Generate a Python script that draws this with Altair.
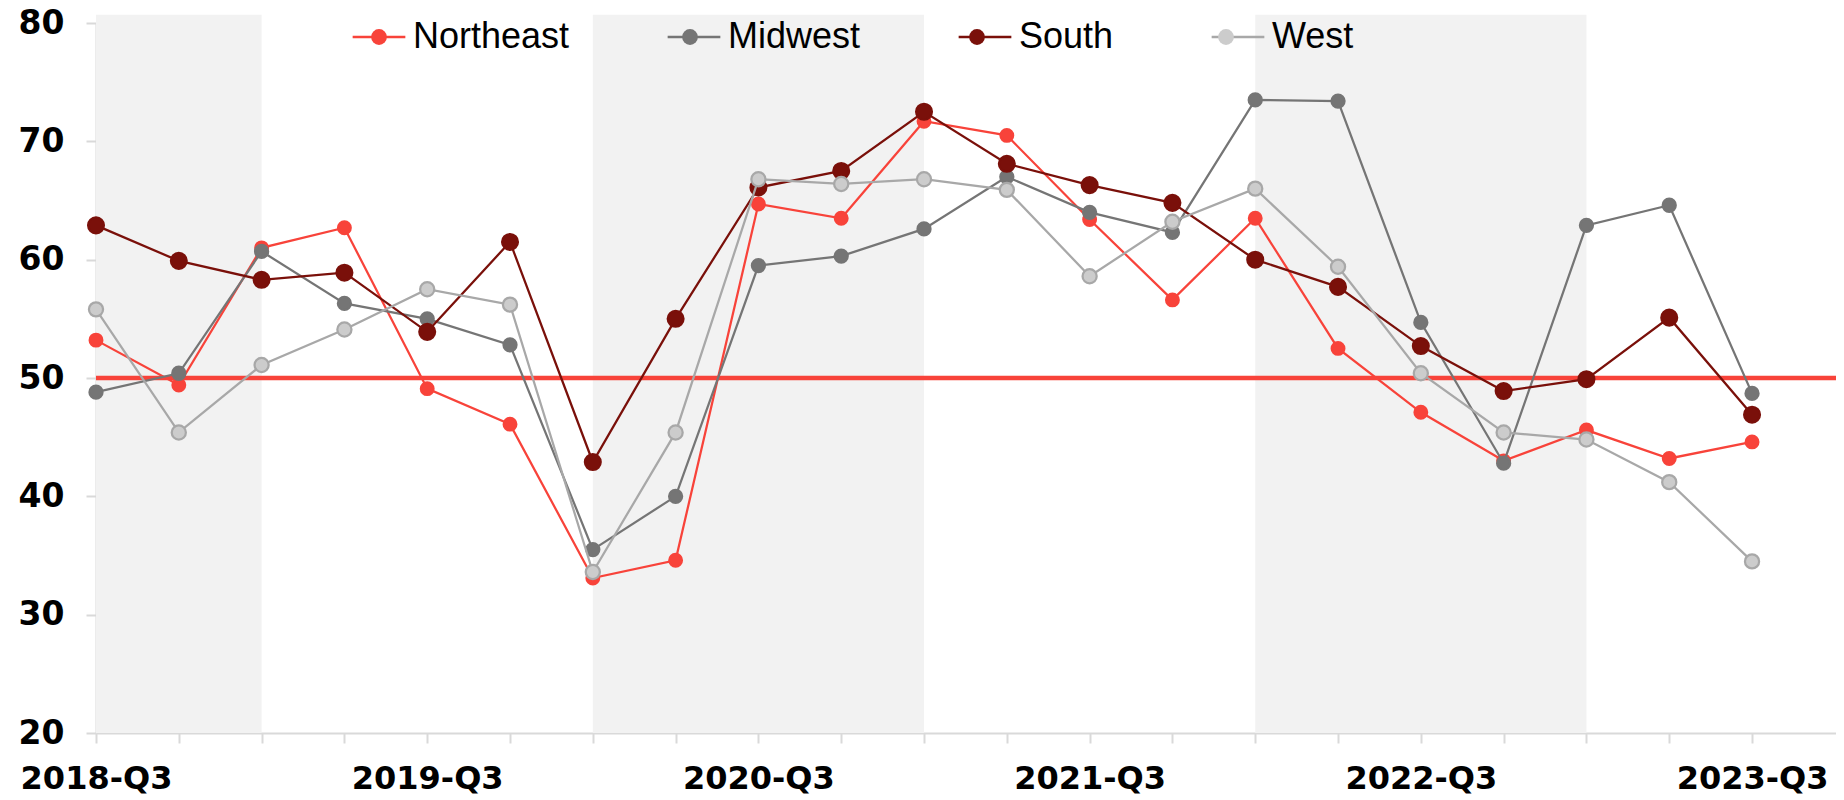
import altair as alt
import pandas as pd

quarters = ["2018-Q3", "2018-Q4", "2019-Q1", "2019-Q2", "2019-Q3", "2019-Q4",
            "2020-Q1", "2020-Q2", "2020-Q3", "2020-Q4", "2021-Q1", "2021-Q2",
            "2021-Q3", "2021-Q4", "2022-Q1", "2022-Q2", "2022-Q3", "2022-Q4",
            "2023-Q1", "2023-Q2", "2023-Q3"]

northeast = [53.2, 49.4, 61.0, 62.7, 49.1, 46.1, 33.1, 34.6, 64.7, 63.5, 71.7,
             70.5, 63.4, 56.6, 63.5, 52.5, 47.1, 43.0, 45.6, 43.2, 44.6]
midwest = [48.8, 50.4, 60.7, 56.3, 55.0, 52.8, 35.5, 40.0, 59.5, 60.3, 62.6,
           67.0, 64.0, 62.3, 73.5, 73.4, 54.7, 42.8, 62.9, 64.6, 48.7]
south = [62.9, 59.9, 58.3, 58.9, 53.9, 61.5, 42.9, 55.0, 66.1, 67.5, 72.5,
         68.1, 66.3, 64.8, 60.0, 57.7, 52.7, 48.9, 49.9, 55.1, 46.9]
west = [55.8, 45.4, 51.1, 54.1, 57.5, 56.2, 33.6, 45.4, 66.8, 66.4, 66.8,
        65.9, 58.6, 63.2, 66.0, 59.4, 50.4, 45.4, 44.8, 41.2, 34.5]

regions = ["Northeast", "Midwest", "South", "West"]
series = [northeast, midwest, south, west]
line_colors = ["#f8433a", "#757575", "#7a100a", "#a8a8a8"]
fill_colors = ["#f8433a", "#757575", "#7a100a", "#cccccc"]
point_sizes = [160, 170, 250, 200]

band_start = ["2018-Q3", "2020-Q1", "2022-Q1"]
band_end = ["2019-Q1", "2021-Q1", "2023-Q1"]
band_top = 80.7
y_ticks = [20, 30, 40, 50, 60, 70, 80]
threshold = 50
label_every = 4

rows = []
for r, vals in zip(regions, series):
    for i, (q, v) in enumerate(zip(quarters, vals)):
        rows.append({"idx": i, "quarter": q, "region": r, "value": v})
df = pd.DataFrame(rows)

bands = pd.DataFrame({
    "start": [quarters.index(q) for q in band_start],
    "end": [quarters.index(q) for q in band_end],
})

label_arr = "[" + ",".join("'" + q + "'" for q in quarters) + "]"
label_expr = f"datum.value % {label_every} === 0 ? {label_arr}[datum.value] : ''"

x_scale = alt.Scale(domain=[0, 21.014], nice=False, zero=False)
y_scale = alt.Scale(domain=[20, 80], nice=False, zero=False)

x_axis = alt.Axis(values=list(range(len(quarters))), labelExpr=label_expr,
                  labelOverlap=False, labelFlush=False, grid=False, title=None,
                  domainColor="#d9d9d9", domainWidth=2, tickColor="#d9d9d9",
                  tickWidth=2, tickSize=10, labelFont="DejaVu Sans",
                  labelFontWeight="bold", labelFontSize=32, labelColor="black",
                  labelPadding=20)
y_axis = alt.Axis(values=y_ticks, grid=False, title=None,
                  domainColor="#d9d9d9", domainWidth=2, tickColor="#d9d9d9",
                  tickWidth=2, tickSize=10, labelFont="DejaVu Sans",
                  labelFontWeight="bold", labelFontSize=33, labelColor="black",
                  labelPadding=22, labelFlush=False)

band_layer = alt.Chart(bands).mark_rect(color="#f2f2f2").encode(
    x=alt.X("start:Q", scale=x_scale, axis=x_axis),
    x2="end:Q",
    y=alt.datum(20, scale=y_scale, axis=y_axis),
    y2=alt.datum(band_top),
)

rule_layer = alt.Chart(pd.DataFrame({"t": [threshold]})).mark_rule(
    color="#f8433a", strokeWidth=4.5).encode(
    y=alt.Y("t:Q", scale=y_scale, axis=y_axis),
)

# legend of line segments (with visible labels)
leg_line = alt.Legend(orient="none", legendX=255, legendY=-14,
                      direction="horizontal", title=None, symbolType="stroke",
                      symbolSize=2777, symbolStrokeWidth=2.5,
                      labelFont="Liberation Sans", labelFontSize=36,
                      labelColor="black", columnPadding=92, labelOffset=6)
# legend of marker circles drawn over the centres of the segments
leg_pt = alt.Legend(orient="none", legendX=265, legendY=-4,
                    direction="horizontal", title=None, symbolType="circle",
                    symbolSize=250, symbolStrokeWidth=0,
                    labelFont="Liberation Sans", labelFontSize=36,
                    labelOpacity=0, columnPadding=92, labelOffset=26)

base = alt.Chart(df)
layers = [band_layer, rule_layer]
for r, sz in zip(regions, point_sizes):
    sub = base.transform_filter(alt.datum.region == r)
    line = sub.mark_line(strokeWidth=2.25).encode(
        x=alt.X("idx:Q", scale=x_scale, axis=x_axis),
        y=alt.Y("value:Q", scale=y_scale, axis=y_axis),
        color=alt.Color("region:N", scale=alt.Scale(domain=regions, range=line_colors),
                        legend=leg_line),
    )
    pts = sub.mark_point(filled=True, size=sz, strokeWidth=2.25, opacity=1).encode(
        x=alt.X("idx:Q", scale=x_scale, axis=x_axis),
        y=alt.Y("value:Q", scale=y_scale, axis=y_axis),
        fill=alt.Fill("region:N", sort=regions,
                      scale=alt.Scale(range=fill_colors), legend=leg_pt),
        stroke=alt.Stroke("region:N", sort=regions,
                          scale=alt.Scale(range=line_colors), legend=None),
    )
    layers += [line, pts]

chart = alt.layer(*layers).properties(
    width=1740, height=710,
    padding={"left": 88, "top": 15, "right": 0, "bottom": 64},
    autosize="none",
).configure_view(stroke=None)

chart.save("out.html", embed_options={"renderer": "svg", "actions": False})
